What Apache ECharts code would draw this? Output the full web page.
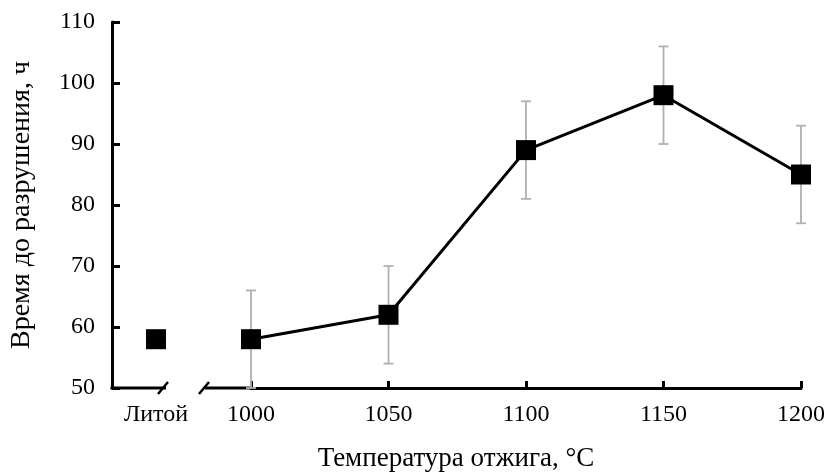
<!DOCTYPE html>
<html><head><meta charset="utf-8">
<script src="https://cdn.jsdelivr.net/npm/echarts@6/dist/echarts.min.js"></script>
<style>html,body{margin:0;padding:0;background:#fff}#c{width:832px;height:473px}</style>
</head><body><div id="c"></div>
<script>
const castCategory = ['Литой'];
const castValue = [58];
const tempCategories = ['1000', '1050', '1100', '1150', '1200'];
const tempValues = [58, 62, 89, 98, 85];
const errLow = [50, 54, 81, 90, 77];
const errHigh = [66, 70, 97, 106, 93];
const yTicks = {min: 50, max: 110, interval: 10};

const FONT = 'Liberation Serif';
const chart = echarts.init(document.getElementById('c'));
const AX = 388;
chart.setOption({
  animation: false,
  grid: [
    {left: 112, top: 22, width: 88, height: 366},
    {left: 251, top: 22, width: 550, height: 366}
  ],
  xAxis: [
    {gridIndex: 0, type: 'category', data: castCategory,
     axisLine: {show: false}, axisTick: {show: false},
     axisLabel: {color: '#000', fontFamily: FONT, fontSize: 24, margin: 15}},
    {gridIndex: 1, type: 'category', data: tempCategories, boundaryGap: false,
     axisLine: {show: true, lineStyle: {color: '#000', width: 3}},
     axisTick: {show: true, inside: true, length: 7, lineStyle: {color: '#000', width: 3}},
     axisLabel: {color: '#000', fontFamily: FONT, fontSize: 24, margin: 15}}
  ],
  yAxis: [
    {gridIndex: 0, type: 'value', min: yTicks.min, max: yTicks.max, interval: yTicks.interval,
     splitLine: {show: false},
     axisLine: {show: true, lineStyle: {color: '#000', width: 3}},
     axisTick: {show: true, inside: true, length: 8, lineStyle: {color: '#000', width: 3}},
     axisLabel: {color: '#000', fontFamily: FONT, fontSize: 24, margin: 17},
     name: 'Время до разрушения, ч', nameLocation: 'middle', nameGap: 76, nameRotate: 90,
     nameTextStyle: {color: '#000', fontFamily: FONT, fontSize: 28}},
    {gridIndex: 1, type: 'value', min: yTicks.min, max: yTicks.max, interval: yTicks.interval,
     show: false, splitLine: {show: false}}
  ],
  series: [
    {type: 'custom', xAxisIndex: 1, yAxisIndex: 1, z: 1,
     data: tempCategories.map((c, i) => [i, errLow[i], errHigh[i]]),
     renderItem: function (params, api) {
       const lo = api.coord([api.value(0), api.value(1)]);
       const hi = api.coord([api.value(0), api.value(2)]);
       const w = 5;
       const st = {stroke: '#b0b0b0', lineWidth: 1.8};
       return {type: 'group', children: [
         {type: 'line', shape: {x1: hi[0], y1: hi[1], x2: lo[0], y2: lo[1]}, style: st},
         {type: 'line', shape: {x1: hi[0] - w, y1: hi[1], x2: hi[0] + w, y2: hi[1]}, style: st},
         {type: 'line', shape: {x1: lo[0] - w, y1: lo[1], x2: lo[0] + w, y2: lo[1]}, style: st}
       ]};
     }},
    {type: 'line', xAxisIndex: 1, yAxisIndex: 1, data: tempValues, z: 3,
     symbol: 'rect', symbolSize: 20,
     lineStyle: {color: '#000', width: 3}, itemStyle: {color: '#000', opacity: 1}},
    {type: 'scatter', xAxisIndex: 0, yAxisIndex: 0, data: castValue, z: 3,
     symbol: 'rect', symbolSize: 20, itemStyle: {color: '#000', opacity: 1}}
  ],
  graphic: [
    {type: 'line', shape: {x1: 110.5, y1: AX, x2: 166, y2: AX}, style: {stroke: '#000', lineWidth: 3}},
    {type: 'line', shape: {x1: 205, y1: AX, x2: 252, y2: AX}, style: {stroke: '#000', lineWidth: 3}},
    {type: 'line', shape: {x1: 158, y1: 394, x2: 168, y2: 382}, style: {stroke: '#000', lineWidth: 2.5}},
    {type: 'line', shape: {x1: 199, y1: 394, x2: 209, y2: 382}, style: {stroke: '#000', lineWidth: 2.5}},
    {type: 'text', x: 456, y: 445,
     style: {text: 'Температура отжига, °C', fill: '#000', font: '27px "Liberation Serif"', textAlign: 'center', textVerticalAlign: 'top'}}
  ]
});
</script></body></html>
